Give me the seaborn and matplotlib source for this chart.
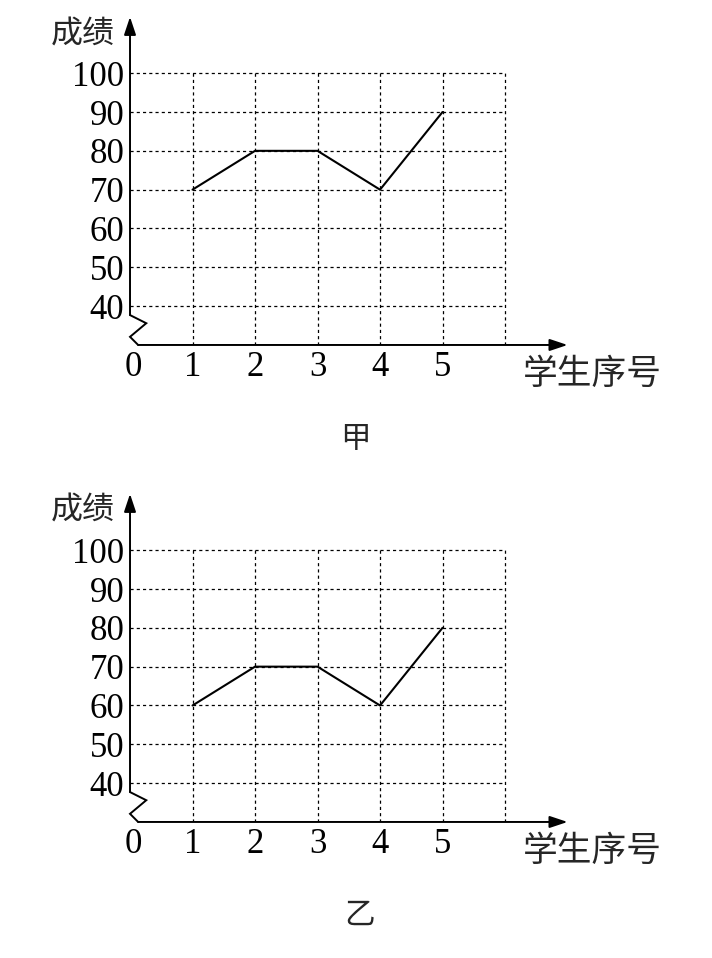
import matplotlib
matplotlib.use("Agg")
import matplotlib.pyplot as plt
import matplotlib.transforms as mtransforms
import seaborn as sns

# data
students = [1, 2, 3, 4, 5]
scores_jia = [70, 80, 80, 70, 90]
scores_yi = [60, 70, 70, 60, 80]
y_ticks = [40, 50, 60, 70, 80, 90, 100]
x_ticks = [0, 1, 2, 3, 4, 5]
panel_names = ["甲", "乙"]

sns.set_theme(style="white")
plt.rcParams["font.family"] = ["Liberation Serif", "Noto Sans CJK SC", "DejaVu Sans"]
CJK = ["Noto Sans CJK SC", "DejaVu Sans"]


def draw_panel(fig, ax, scores):
    ax.set_xlim(0, 7)
    ax.set_ylim(30, 115)
    for s in ax.spines.values():
        s.set_visible(False)

    # dotted grid, only inside 0..6 x 30..100
    grid = dict(color="black", lw=0.9, linestyle=(0, (2.5, 2.5)))
    ax.hlines(y_ticks, 0, 6, **grid)
    ax.vlines(range(1, 7), 30, 100, **grid)

    sns.lineplot(x=students, y=scores, ax=ax, color="black", lw=1.5)

    # axes with arrows and the break mark on y
    arrow = dict(arrowstyle="-|>,head_length=0.9,head_width=0.3", color="black",
                 lw=1.4, mutation_scale=12, shrinkA=0, shrinkB=0)
    ax.annotate("", xy=(0, 114.5), xytext=(0, 37.7), arrowprops=arrow, annotation_clip=False)
    ax.annotate("", xy=(7.0, 30), xytext=(0.13, 30), arrowprops=arrow, annotation_clip=False)
    ax.plot([0, 0.26, 0, 0.13], [37.7, 35.6, 32.1, 30], color="black", lw=1.4,
            clip_on=False, solid_joinstyle="miter")

    ax.set_yticks(y_ticks)
    ax.set_yticklabels([str(v) for v in y_ticks])
    ax.set_xticks(x_ticks)
    ax.set_xticklabels([str(v) for v in x_ticks])
    ax.tick_params(axis="both", length=0, labelsize=25, colors="black")
    ax.tick_params(axis="y", pad=4)
    ax.tick_params(axis="x", pad=4)
    zero = ax.get_xticklabels()[0]
    zero.set_transform(zero.get_transform()
                       + mtransforms.ScaledTranslation(3 / 100, 0, fig.dpi_scale_trans))
    ax.set_xlabel("")
    ax.set_ylabel("")

    ax.text(-0.24, 114.2, "成绩", family=CJK, fontsize=23, ha="right", va="top")
    ax.text(7.4, 27.0, "学生序号", family=CJK, fontsize=25, ha="center", va="top")


fig = plt.figure(figsize=(7.12, 9.58), dpi=100)
ax1 = fig.add_axes([0.1826, 0.6399, 0.6145, 0.3445])
ax2 = fig.add_axes([0.1826, 0.1420, 0.6145, 0.3445])
ax1.set_facecolor("none")
ax2.set_facecolor("none")

draw_panel(fig, ax1, scores_jia)
draw_panel(fig, ax2, scores_yi)

fig.text(0.499, 0.541, panel_names[0], family=CJK, fontsize=22, ha="center", va="center")
fig.text(0.505, 0.045, panel_names[1], family=CJK, fontsize=22, ha="center", va="center")

fig.savefig("out.png", dpi=100, facecolor="white")
